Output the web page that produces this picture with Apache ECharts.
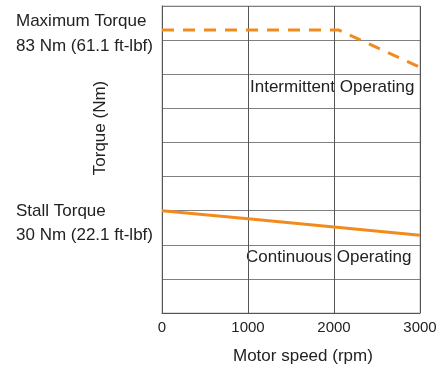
<!DOCTYPE html>
<html>
<head>
<meta charset="utf-8">
<script src="https://cdn.jsdelivr.net/npm/echarts@6/dist/echarts.min.js"></script>
<style>
  html, body { margin: 0; padding: 0; background: #fff; }
  #chart { width: 443px; height: 367px; }
</style>
</head>
<body>
<div id="chart"></div>
<script>
// speed (rpm) / torque (Nm)
const xTicks = [0, 1000, 2000, 3000]
const continuousSpeed = [0, 1000, 2000, 3000]
const continuousTorque = [30, 27.6, 25.2, 22.8]
const maxSpeed = [0, 2050, 3000]
const maxTorque = [83, 83, 72]

const orange = '#f28b1e'
const txt = '#222'
const font = '"Liberation Sans", Arial, sans-serif'

const myChart = echarts.init(document.getElementById('chart'))

const option = {
  animation: false,
  grid: {
    left: 162,
    right: 23,
    top: 6,
    bottom: 54,
    show: true,
    borderColor: '#b5b5b5',
    borderWidth: 1
  },
  xAxis: {
    type: 'value',
    min: 0,
    max: 3000,
    interval: 1000,
    axisLine: { show: true, onZero: false, lineStyle: { color: '#555', width: 1 } },
    axisTick: { show: false },
    splitLine: { show: true, lineStyle: { color: '#555', width: 1 } },
    axisLabel: {
      margin: 7,
      color: txt,
      fontSize: 15,
      fontFamily: '"Liberation Sans Narrow", ' + font,
      customValues: xTicks,
      formatter: v => String(v)
    }
  },
  yAxis: {
    type: 'value',
    min: 0,
    max: 90,
    interval: 10,
    axisLine: { show: true, lineStyle: { color: '#555', width: 1 } },
    axisTick: { show: false },
    axisLabel: { show: false },
    splitLine: { show: true, lineStyle: { color: '#808080', width: 1 } }
  },
  graphic: [
    { type: 'text', left: 16, top: 13, style: { text: 'Maximum Torque', fill: txt, font: '17px ' + font } },
    { type: 'text', left: 16, top: 38, style: { text: '83 Nm (61.1 ft-lbf)', fill: txt, font: '17px ' + font } },
    { type: 'text', left: 16, top: 203, style: { text: 'Stall Torque', fill: txt, font: '17px ' + font } },
    { type: 'text', left: 16, top: 227, style: { text: '30 Nm (22.1 ft-lbf)', fill: txt, font: '17px ' + font } },
    { type: 'text', left: 250, top: 79, style: { text: 'Intermittent Operating', fill: txt, font: '17px ' + font } },
    { type: 'text', left: 246, top: 249, style: { text: 'Continuous Operating', fill: txt, font: '17px ' + font } },
    { type: 'text', left: 233, top: 348, style: { text: 'Motor speed (rpm)', fill: txt, font: '17px ' + font } },
    {
      type: 'text',
      x: 100,
      y: 128,
      rotation: Math.PI / 2,
      style: { text: 'Torque (Nm)', fill: txt, font: '17px ' + font, align: 'center', verticalAlign: 'middle' }
    }
  ],
  series: [
    {
      name: 'Continuous',
      type: 'line',
      showSymbol: false,
      data: continuousSpeed.map((s, i) => [s, continuousTorque[i]]),
      lineStyle: { color: orange, width: 3 }
    },
    {
      name: 'Maximum',
      type: 'line',
      showSymbol: false,
      data: maxSpeed.map((s, i) => [s, maxTorque[i]]),
      lineStyle: { color: orange, width: 3, type: [12, 9] }
    }
  ]
}

myChart.setOption(option)
</script>
</body>
</html>
